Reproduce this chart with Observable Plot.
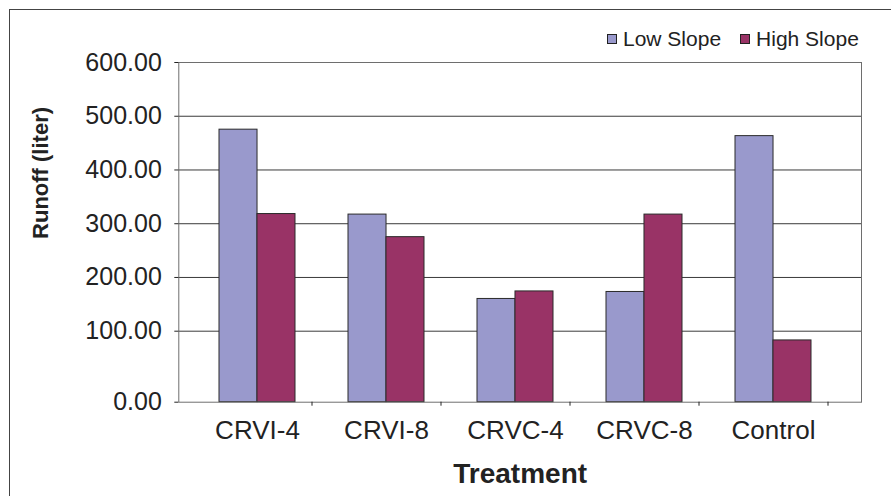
<!DOCTYPE html>
<html>
<head>
<meta charset="utf-8">
<script src="https://cdn.jsdelivr.net/npm/d3@7"></script>
<script src="https://cdn.jsdelivr.net/npm/@observablehq/plot@0.6"></script>
<style>
  html, body { margin: 0; padding: 0; background: #fff; overflow: hidden; }
  #chart { position: relative; width: 891px; height: 496px; overflow: hidden;
           font-family: "Liberation Sans", Arial, sans-serif; color: #222; background: #fff; }
  #chart svg { position: absolute; left: 0; top: 0; }
  .outline { position: absolute; left: 9px; top: 9px; width: 1200px; height: 1200px;
             border: 1px solid #444; pointer-events: none; }
  .legend { position: absolute; left: 607px; top: 27px; display: flex; align-items: center;
            font-size: 21px; line-height: 23px; white-space: nowrap; }
  .legend .item { display: flex; align-items: center; margin-right: 19px; }
  .legend .sw { display: inline-block; width: 8px; height: 8px; border: 1px solid #222; margin-right: 6px; }
</style>
</head>
<body>
<div id="chart">
  <div class="outline"></div>
  <div class="legend" id="legend"></div>
</div>
<script>
// Runoff per treatment, litres
const treatments = ["CRVI-4", "CRVI-8", "CRVC-4", "CRVC-8", "Control"];
const lowSlope = [475, 317, 160, 173, 463];
const highSlope = [318, 275, 174, 317, 87];
const yTicks = [0, 100, 200, 300, 400, 500, 600];
const seriesNames = ["Low Slope", "High Slope"];
const seriesColors = ["#9999cc", "#993366"];

const rows = treatments.map((t, i) => ({treatment: t, low: lowSlope[i], high: highSlope[i]}));

// layout
const W = 891, H = 496;
const mL = 178.3, mR = 30, mT = 62, mB = 94.3;
const xRange = [191.3, 838.3];
const padIn = 0.413;
const step = (xRange[1] - xRange[0]) / treatments.length;
const halfBand = step * (1 - padIn) / 2;

// the value axis gives the 0–100 interval more room than each later 100-unit step
const lowStretch = 1.3212;
const warp = v => (v <= 100 ? v * lowStretch : 100 * lowStretch + (v - 100));
const unwarp = t => (t <= 100 * lowStretch ? t / lowStretch : t - 100 * lowStretch + 100);

const chart = Plot.plot({
  width: W,
  height: H,
  marginLeft: mL,
  marginRight: mR,
  marginTop: mT,
  marginBottom: mB,
  style: {fontFamily: "'Liberation Sans', Arial, sans-serif", color: "#222", background: "transparent", overflow: "visible"},
  x: {domain: treatments, range: xRange, paddingInner: padIn, paddingOuter: padIn / 2},
  y: {transform: warp, domain: [0, warp(600)]},
  marks: [
    Plot.gridY({ticks: yTicks.slice(1).map(warp), stroke: "#3a3a3a", strokeOpacity: 1}),
    Plot.barY(rows, {x: "treatment", y: "low", fill: seriesColors[0], stroke: "#2a2a2a", insetRight: halfBand}),
    Plot.barY(rows, {x: "treatment", y: "high", fill: seriesColors[1], stroke: "#2a2a2a", insetLeft: halfBand}),
    Plot.frame({stroke: "#6e6e6e"}),
    Plot.axisY({ticks: yTicks.map(warp), tickFormat: t => unwarp(t).toFixed(2), tickSize: 4, tickPadding: 13, fontSize: 25, label: null}),
    Plot.axisX({tickSize: 0, tickPadding: 18, fontSize: 26, label: null}),
    Plot.axisX({tickSize: 4, tickFormat: () => "", dx: 54.5, label: null}),
    Plot.text(["Treatment"], {text: d => d, frameAnchor: "bottom", lineAnchor: "bottom", dy: 80.3, fontSize: 28, fontWeight: "bold"}),
    Plot.text(["Runoff (liter)"], {text: d => d, frameAnchor: "left", rotate: -90, textAnchor: "middle", lineAnchor: "middle", dx: -138.3, dy: -59.4, fontSize: 22, fontWeight: "bold"})
  ]
});
document.getElementById("chart").insertBefore(chart, document.getElementById("legend"));

// legend
const legend = document.getElementById("legend");
seriesNames.forEach((name, i) => {
  const item = document.createElement("span");
  item.className = "item";
  const sw = document.createElement("span");
  sw.className = "sw";
  sw.style.background = seriesColors[i];
  item.appendChild(sw);
  item.appendChild(document.createTextNode(name));
  legend.appendChild(item);
});
</script>
</body>
</html>
